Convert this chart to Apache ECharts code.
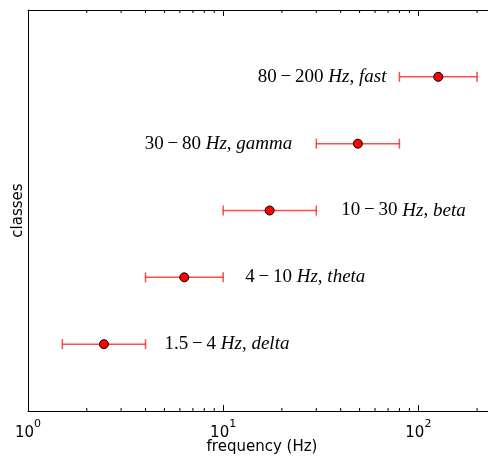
<!DOCTYPE html>
<html>
<head>
<meta charset="utf-8">
<script src="https://cdn.jsdelivr.net/npm/echarts@6/dist/echarts.min.js"></script>
<style>
  html, body { margin: 0; padding: 0; background: #fff; }
  #chart { width: 488px; height: 456px; }
</style>
</head>
<body>
<div id="chart"></div>
<script>
// EEG frequency bands: range limits and centre frequency (Hz)
const bandNames = ['delta', 'theta', 'beta', 'gamma', 'fast'];
const bandRanges = ['1.5\u2009\u2212\u20094', '4\u2009\u2212\u200910', '10\u2009\u2212\u200930', '30\u2009\u2212\u200980', '80\u2009\u2212\u2009200'];
const lowHz = [1.5, 4, 10, 30, 80];
const highHz = [4, 10, 30, 80, 200];
const centreHz = [2.45, 6.32, 17.3, 49.0, 126.5];
const classRow = [1, 2, 3, 4, 5];

// minor tick positions on the log frequency axis
const minorTicks = [2, 3, 4, 5, 6, 7, 8, 9, 20, 30, 40, 50, 60, 70, 80, 90, 200];

// label placement: which end of the bar the text sits at, and gap in px
const labelSide = ['right', 'right', 'right', 'left', 'left'];
const labelGap = [19, 22, 25, 24, 13];

const X_MIN = 1, X_MAX = 250, Y_MIN = 0, Y_MAX = 6;

const chart = echarts.init(document.getElementById('chart'), null, { renderer: 'canvas' });

const tickLabel = {
  formatter: v => '{b|10}{s|' + Math.round(Math.log10(v)) + '}',
  margin: 8,
  showMaxLabel: false,
  rich: {
    b: { fontFamily: 'DejaVu Sans', fontSize: 15, color: '#000', lineHeight: 22, verticalAlign: 'bottom' },
    s: { fontFamily: 'DejaVu Sans', fontSize: 11, color: '#000', lineHeight: 22, verticalAlign: 'top' }
  }
};

const barData = lowHz.map((lo, i) => [lo, highHz[i], classRow[i], i]);

function renderBar(params, api) {
  const i = api.value(3);
  const y = api.value(2);
  const a = api.coord([api.value(0), y]);
  const b = api.coord([api.value(1), y]);
  const red = 'rgba(255,0,0,0.7)';
  const cap = 5;
  const side = labelSide[i];
  const tx = side === 'right' ? b[0] + labelGap[i] : a[0] - labelGap[i];
  return {
    type: 'group',
    children: [
      { type: 'line', shape: { x1: a[0], y1: a[1], x2: b[0], y2: b[1] }, style: { stroke: red, lineWidth: 1.5 } },
      { type: 'line', shape: { x1: a[0], y1: a[1] - cap, x2: a[0], y2: a[1] + cap }, style: { stroke: red, lineWidth: 1.5 } },
      { type: 'line', shape: { x1: b[0], y1: b[1] - cap, x2: b[0], y2: b[1] + cap }, style: { stroke: red, lineWidth: 1.5 } },
      {
        type: 'text',
        style: {
          x: tx, y: a[1],
          text: '{n|' + bandRanges[i] + ' }{i|Hz}{n|, }{i|' + bandNames[i] + '}',
          align: side === 'right' ? 'left' : 'right',
          verticalAlign: 'middle',
          rich: {
            n: { fontFamily: 'Liberation Serif', fontSize: 19, fill: '#000' },
            i: { fontFamily: 'Liberation Serif', fontStyle: 'italic', fontSize: 19, fill: '#000' }
          }
        }
      }
    ]
  };
}

function renderMinorTick(params, api) {
  const v = api.value(0);
  const bot = api.coord([v, Y_MIN]);
  const top = api.coord([v, Y_MAX]);
  const len = 3;
  const st = { stroke: '#000', lineWidth: 1 };
  return {
    type: 'group',
    children: [
      { type: 'line', shape: { x1: bot[0], y1: bot[1], x2: bot[0], y2: bot[1] - len }, style: st },
      { type: 'line', shape: { x1: top[0], y1: top[1], x2: top[0], y2: top[1] + len }, style: st }
    ]
  };
}

const axisLineStyle = { show: true, lineStyle: { color: '#000', width: 1 } };

chart.setOption({
  animation: false,
  backgroundColor: '#fff',
  grid: { left: 28, top: 10, right: -8, bottom: 45, containLabel: false, outerBoundsMode: 'none' },
  xAxis: [
    {
      type: 'log', logBase: 10, min: X_MIN, max: X_MAX, position: 'bottom',
      name: 'frequency (Hz)', nameLocation: 'middle', nameGap: 29, nameMoveOverlap: false,
      nameTextStyle: { fontFamily: 'DejaVu Sans', fontSize: 15, color: '#000' },
      axisLine: axisLineStyle,
      axisTick: { show: true, inside: true, length: 6, lineStyle: { color: '#000' } },
      axisLabel: tickLabel,
      splitLine: { show: false }
    },
    {
      type: 'log', logBase: 10, min: X_MIN, max: X_MAX, position: 'top',
      axisLine: axisLineStyle,
      axisTick: { show: true, inside: true, length: 6, lineStyle: { color: '#000' } },
      axisLabel: { show: false },
      splitLine: { show: false }
    }
  ],
  yAxis: {
    type: 'value', min: Y_MIN, max: Y_MAX,
    name: 'classes', nameLocation: 'middle', nameGap: 2, nameRotate: 90, nameMoveOverlap: false,
    nameTextStyle: { fontFamily: 'DejaVu Sans', fontSize: 15, color: '#000' },
    axisLine: axisLineStyle,
    axisTick: { show: false },
    axisLabel: { show: false },
    splitLine: { show: false }
  },
  series: [
    {
      type: 'custom', xAxisIndex: 0, renderItem: renderMinorTick, clip: false, silent: true,
      data: minorTicks.map(v => [v]), encode: { x: 0 }
    },
    {
      type: 'custom', xAxisIndex: 0, renderItem: renderBar, clip: false,
      data: barData, encode: { x: [0, 1], y: 2 }
    },
    {
      type: 'scatter', xAxisIndex: 0, symbol: 'circle', symbolSize: 9,
      itemStyle: { color: '#ff0000', borderColor: '#000', borderWidth: 1, opacity: 1 },
      data: centreHz.map((c, i) => [c, classRow[i]]),
      z: 5
    }
  ]
});
</script>
</body>
</html>
